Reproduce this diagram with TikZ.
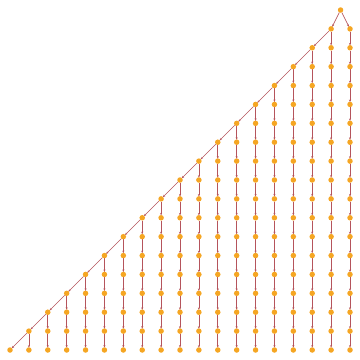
\documentclass[tikz,border=0pt]{standalone}
\usetikzlibrary{arrows.meta,backgrounds}
\definecolor{dotc}{HTML}{F5A623}
\definecolor{edgec}{HTML}{B5545C}
\tikzset{
  dot/.style={circle,fill=dotc,draw=none,inner sep=0pt,minimum size=5.5mm},
  link/.style={draw=edgec,line width=0.6mm,-{Stealth[length=2.6mm,width=2mm]},shorten >=-0.5mm}
}
\begin{document}
\begin{tikzpicture}[x=1mm,y=-1mm]
\useasboundingbox (0,0) rectangle (360,360);
\pgfmathsetmacro{\sp}{340/18}
\node[dot] (r) at ({10+17.5*\sp},{350-18*\sp}) {};
\foreach \i in {0,...,18}{
  \pgfmathtruncatemacro{\top}{min(\i,17)}
  \foreach \j in {0,...,\top}{
    \node[dot] (n-\i-\j) at ({10+\i*\sp},{350-\j*\sp}) {};
  }
}
\begin{pgfonlayer}{background}
\draw[link] (r) -- (n-17-17);
\draw[link] (r) -- (n-18-17);
\foreach \i in {1,...,17}{
  \pgfmathtruncatemacro{\p}{\i-1}
  \draw[link] (n-\i-\i) -- (n-\p-\p);
}
\foreach \i in {1,...,18}{
  \pgfmathtruncatemacro{\top}{min(\i,17)}
  \foreach \j in {1,...,\top}{
    \pgfmathtruncatemacro{\q}{\j-1}
    \draw[link] (n-\i-\j) -- (n-\i-\q);
  }
}
\end{pgfonlayer}
\end{tikzpicture}
\end{document}
